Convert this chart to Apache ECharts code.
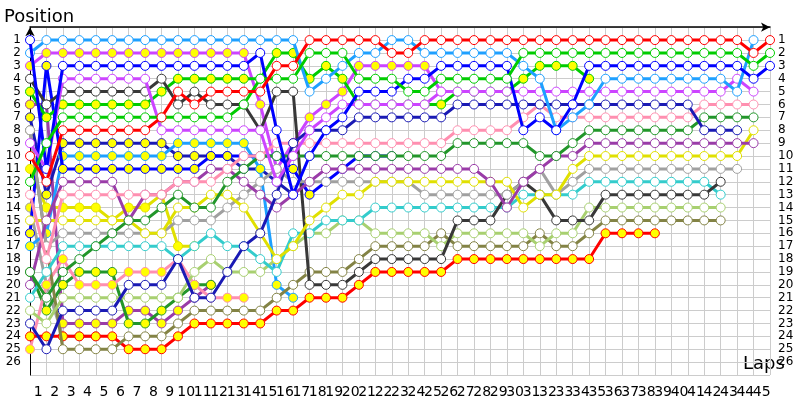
<!DOCTYPE html>
<html><head><meta charset="utf-8">
<script src="https://cdn.jsdelivr.net/npm/echarts@6/dist/echarts.min.js"></script>
<style>html,body{margin:0;padding:0;background:#fff}#c{width:800px;height:400px}</style>
</head><body><div id="c"></div>
<script>
const laps = Array.from({length:45},(_,i)=>String(i+1));
const colors = ['#ff0000','#00cc00','#0000ff','#1ea0ff','#cc44ff','#1a1ab4','#ff8fb0','#22962a','#9a3ca8','#e0e000','#a0a0a0','#383838','#33cccc','#a8d070','#838345'];
const s1=[10,12,8,8,8,8,8,8,7,5,6,5,5,5,5,3,3,1,1,1,1,1,2,2,1,1,1,1,1,1,1,1,1,1,1,1,1,1,1,1,1,1,1,1,2,1];
const s2=[12,9,7,7,7,7,7,7,7,7,7,7,7,6,4,4,4,2,2,2,4,4,4,5,5,4,4,4,4,4,2,2,2,2,2,2,2,2,2,2,2,2,2,2,3,2];
const s3=[1,11,3,3,3,3,3,3,3,3,3,3,3,3,2,8,13,10,8,7,5,5,5,4,4,3,3,3,3,3,8,7,8,6,3,3,3,3,3,3,3,3,3,3,4,3];
const s4=[2,1,1,1,1,1,1,1,1,1,1,1,1,1,1,1,1,5,4,3,2,2,1,1,2,2,2,2,2,2,3,4,8,7,6,4,4,4,4,4,4,4,4,5,1];
const s5=[9,11,4,4,4,4,4,4,8,8,8,8,8,8,8,12,10,8,7,6,6,6,6,6,6,5,5,5,5,5,5,5,5,5,5,5,5,5,5,5,5,5,5,4,5];
const s6=[23,25,22,22,22,22,20,20,20,18,21,21,19,17,16,13,9,8,8,8,7,7,7,7,7,7,6,6,6,6,6,6,6,6,6,6,6,6,6,6,6,8,8,8];
const s7=[13,18,13,13,13,13,13,13,13,12,12,12,11,10,10,9,9,9,9,9,9,9,9,9,9,9,8,8,8,8,7,6,7,7,7,7,7,7,7,7,7,6,6,6,6];
const s8=[19,21,19,18,17,16,15,15,14,13,14,14,12,11,10,10,10,10,10,10,10,10,10,10,10,10,9,9,9,9,9,10,10,9,8,8,8,8,8,8,8,7,7,7,7];
const s9=[20,15,12,12,12,12,15,13,13,12,12,11,11,12,13,14,13,12,11,11,11,11,11,11,11,11,11,11,12,14,12,11,10,10,9,9,9,9,9,9,9,9,9,9,9];
const s10=[15,15,15,15,15,15,15,16,16,14,14,13,13,14,16,18,17,15,14,13,13,12,12,12,12,12,12,12,12,12,14,13,13,11,10,10,10,10,10,10,10,10,10,10,8];
const s11=[8,17,16,16,16,16,16,16,16,15,15,15,14,13,12,11,12,12,12,12,12,12,12,12,13,13,13,13,13,13,12,11,13,12,11,11,11,11,11,11,11,11,11,11];
const s12=[4,6,5,5,5,5,5,5,4,6,5,6,6,6,8,5,5,20,20,20,19,18,18,18,18,18,15,15,15,13,12,13,15,15,15,13,13,13,13,13,13,13,12];
const s13=[21,19,17,17,17,17,17,17,17,18,17,16,17,17,18,19,16,16,15,15,15,14,14,14,14,14,14,14,14,14,13,13,13,13,12,12,12,12,12,12,12,12,13];
const s14=[22,23,21,21,21,21,21,21,21,21,19,18,19,19,19,18,17,16,16,15,15,16,16,16,16,17,16,16,16,16,16,17,16,16,14,14,14,14,14,14,14,14,14];
const s15=[8,17,25,25,25,25,24,24,24,23,22,22,22,22,22,21,20,19,19,19,18,17,17,17,17,16,17,17,17,17,17,16,17,17,16,15,15,15,15,15,15,15,15];
const s16=[24,24,24,24,24,24,25,25,25,24,23,23,23,23,23,22,22,21,21,21,20,19,19,19,19,19,18,18,18,18,18,18,18,18,18,16,16,16,16];
const s17=[5,7,6,6,6,6,6,6,5,4,4,4,4,4,4,2,2,4,3,4,6,6,6,6,6,6,5,5,5,5,4,3,3,3,4];
const s18=[16,3,11,11,11,11,11,11,11,11,11,10,10,10,10,10,11,13,12,11,10,10,10];
const s19=[17,16,10,10,10,10,10,10,10,9,9,9,9,9,11,20,21];
const s20=[3,2,2,2,2,2,2,2,2,2,2,2,2,2,6,11,9,7,6,5,3,3,3,3,3,5];
const s21=[7,13,9,9,9,9,9,9,9,10,10,10,10,11,11,12,13];
const s22=[25,20,18,20,20,20,19,19,19,18,20,21,21,21];
const s23=[19,22,20,19,19,19,23,23,22,21,20,20];
const s24=[6,6,23,23,23,23,22,22,23,22,21,20];
const s25=[11,14,14,14,14,15,14,14,13,17,17];
const s26=[14,20,24,24,24];
const seriesData=[s1,s2,s3,s4,s5,s6,s7,s8,s9,s10,s11,s12,s13,s14,s15,s16,s17,s18,s19,s20,s21,s22,s23,s24,s25,s26];

const chart = echarts.init(document.getElementById('c'));
const series = seriesData.map((d,i)=>{
  const col = colors[i%15];
  const fill = i<15 ? '#ffffff' : '#ffff00';
  return {
    type:'line', xAxisIndex:0, yAxisIndex:0,
    data:d.map((p,k)=>[k,p]),
    symbol:'circle', symbolSize:9, showSymbol:true,
    lineStyle:{color:col,width:3},
    itemStyle:{color:fill,borderColor:col,borderWidth:1},
    z: 2+(26-i)*0.01,
    animation:false
  };
});
const font='DejaVu Sans';
chart.setOption({
  animation:false,
  grid:{left:30,right:30,top:27.2,bottom:25,containLabel:false},
  xAxis:[
    {type:'value',min:0,max:45,interval:1,position:'bottom',
     axisLine:{show:true,lineStyle:{color:'#000',width:1.5},symbol:['none','arrow'],symbolSize:[7,9]},
     axisTick:{show:false},axisLabel:{show:false},
     splitLine:{show:true,lineStyle:{color:'#cccccc',width:1}}},
    {type:'category',data:laps,boundaryGap:true,position:'bottom',
     axisLine:{show:false},axisTick:{show:false},splitLine:{show:false},
     axisLabel:{interval:0,color:'#000',fontFamily:font,fontSize:14,margin:10}}
  ],
  yAxis:[
    {type:'value',inverse:true,min:0,max:27,interval:1,position:'left',
     axisLine:{show:true,lineStyle:{color:'#000',width:1},symbol:['none','arrow'],symbolSize:[7,9]},
     axisTick:{show:false},
     axisLabel:{color:'#000',fontFamily:font,fontSize:12,margin:9,formatter:v=>(v>=1&&v<=26)?String(v):''},
     splitLine:{show:true,lineStyle:{color:'#cccccc',width:1}}},
    {type:'value',inverse:true,min:0,max:27,interval:1,position:'right',
     axisLine:{show:false},axisTick:{show:false},splitLine:{show:false},
     axisLabel:{color:'#000',fontFamily:font,fontSize:12,margin:8,formatter:v=>(v>=1&&v<=26)?String(v):''}}
  ],
  graphic:[
    {type:'text',left:4,top:8,style:{text:'Position',fontFamily:font,fontSize:18,fill:'#000'}},
    {type:'text',left:743,top:355,style:{text:'Laps',fontFamily:font,fontSize:18,fill:'#000'}}
  ],
  series:series
});
</script></body></html>
